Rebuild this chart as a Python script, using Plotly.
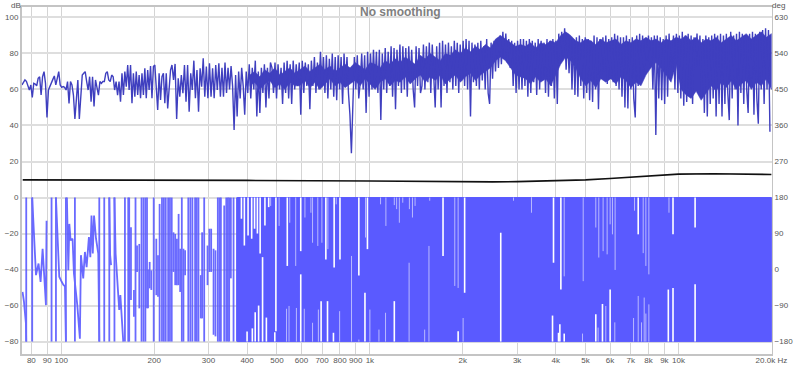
import numpy as np
import plotly.graph_objects as go

# ---------- magnitude (dB), read band by band; each band list runs left to right
band_edges = [74.6, 108.3, 157.3, 228.4, 331.7, 481.7, 699.5, 1016, 1475, 2142, 3111, 4518, 6561, 9528, 13836, 20000]
mag_01 = [62.5,64.4,65.3,64.5,62,59.7,62.5,55.6,63.4,63,62,66.2,67.1,56.9,67.1,69.9,63.4,44.4,59.7,62,63.4,65.6,67.5,62.5,66.2,69.9,62.5,61.2,61.6,61.2,59.7,64.4,52.3,64.4]
mag_02 = [62.5,56.9,43.6,54.2,65.3,43.6,59.7,68,69,69.9,64.4,59.7,67.1,53.2,67.1,50.5,65.3,61.6,56.9,64.4,63.4,64.4,64.4,69,69.9,65.3,64.4,68,67.1,59.7,64.4,56.9,64.4,53.2]
mag_03 = [69,56.9,69.9,61.6,73.6,59.7,73.6,52.3,69,56,69.9,56.9,68,55.1,69,56.9,71.8,55.1,70.8,59.7,73,55.1,72.7,73.6,59.7,48.6,69,54.2,67.1,69,52.3,69,49.5,61.6,70.8]
mag_04 = [73.6,65.3,74.2,43.6,66.2,56,68,57.9,73.6,53.2,73.6,47.7,69,59.7,76,55.1,70.8,47.7,71.8,61.6,77.3,56,72.7,55.1,74.5,56,71.8,55.1,73.6,59.7,74.5,56]
mag_05 = [72,56,75,58,72,60,73,62,37.5,68,45,70,55,72,62,46,70,58,74,55,72,60,76,45,70,47,72,58,74,50,72,55,75]
mag_06 = [72,58,75,55,74,60,72,52,75,58,76,55,74,52,76,60,74,62,75,46,76,58,75,62,74,49,76,62,78,58,75,60,81]
mag_07 = [62,78,58,79,55,77,60,80,56,78,54,79,60,78,52,80,62,78,58,46,24.6,54,78,60,79,55,64,80,60,79,47,81,56,80]
mag_08 = [60,82,62,81,58,82,43,80,60,83,58,81,62,84,56,83,49,82,62,85,58,84,60,83,56,84,64,82,60,50,84,62,83,58]
mag_09 = [62,85,60,84,64,86,58,85,62,50,84,60,86,50,87,62,85,58,86,64,84,60,87,62,86,58,85,65,87,62,88,60,87,45]
mag_10 = [86,64,85,62,86,60,87,65,84,60,88,58,52,86,66,87,70,88,72,90,74,92,77,91,75,88,72,87,62,86,58,87,60,88]
mag_11 = [60,88,62,87,56,88,58,87,64,86,57,88,60,87,65,86,58,88,56,87,62,88,55,87,52,91,76,92,78,94,71,91,69,89]
mag_12 = [60,88,57,89,56,90,62,88,55,89,58,88,54,87,53,90,60,89,49,88,68,89,70,90,63,88,66,89,64,91,62,90,60,89]
mag_13 = [56,89,50,90,49.5,88,60,89,55,44.5,90,62,91,66,90,70,88,76,90,72,89,60,90,34.7,90,55,89,54,88,52,90,56,91,72]
mag_14 = [75,90,60,91,58,90,55,92,51,90,53,91,60,90,52,89,72,91,73,90,56,88,47,90,45,89,52,90,55,91,45,90,52,91]
mag_15 = [45,90,52,91,58,43,92,55,90,60,91,40,92,58,91,52,90,60,47,91,62,92,46,91,55,41,92,60,93,52,94,60,93,36.5]
mag_bands = [mag_01,mag_02,mag_03,mag_04,mag_05,mag_06,mag_07,mag_08,mag_09,mag_10,mag_11,mag_12,mag_13,mag_14,mag_15]

# solid core of the dense magnitude trace, 408 Hz to 20 kHz: low and high dB, left to right
core_edges = [408, 20000]
core_low = [62,64,60,63,65,61,63,60,64,62, 62,65,61,64,60,63,66,62,64,61, 63,65,62,66,63,60,64,66,62,65, 64,67,63,66,68,64,67,65,68,63,
            66,68,64,67,69,65,68,70,72,76, 78,76,72,68,67, 66,63,67,64,66,62,68, 74,78,76,72,66, 62,65,61,66,64, 66,63,67,65, 61,64,62,
            68,72,75,72, 68,64,74, 60,57,55,59,54,58, 62,59,64,61,65,60,63,65,60,64,62,66,60]
core_high = [68,70,67,71,69,72,68,70,72,69, 71,73,70,72,74,71,73,70,72,74, 72,75,73,71,75,74,72,76,74,77, 75,78,76,74,79,77,80,78,76,80,
             79,82,80,83,81,84,82,85,83,88, 90,88,86,84,85, 84,86,83,86,85,87,86, 90,92,90,87,86, 88,87,85,88,86, 87,88,85,87, 86,88,87,
             89,87,88,86, 88,87,89, 88,90,87,89,86,88, 87,89,86,88,90,87,89,91,88,90,92,89,91]

# ---------- black curve (dB)
black_freq = [75,200,400,1000,1500,2000,2500,3000,4000,5000,6000,7000,8000,9000,10000,13000,20000]
black_db = [9.8,9.8,9.5,9.2,8.8,8.6,8.7,8.8,9.3,9.8,10.6,11.4,12.1,12.7,13.0,13.2,12.8]

# ---------- phase below 170 Hz: traced curve pieces (deg)
phase_pieces = [
    [(74.9,-56),(75.7,-80),(76.8,-134),(77,-180)],
    [(80.5,180),(82.8,-14),(84.4,15),(85.7,-31),(87,52),(89.2,-89),(89.6,122)],
    [(96.1,180),(98.5,-18),(99.8,-27),(101.5,-38),(102.8,-42),(103.5,-180)],
    [(104.3,180),(105.4,-2),(106.2,114),(107.2,73),(108.8,77),(109.9,-10),(112.7,-89),(114.9,-173),(115.8,36),(117.8,-22),(119.3,44),(120.8,6),(122.9,81),(124.2,31),(125.3,135),(126.5,40),(127.7,135),(129.6,77),(131.8,40),(132.8,-180)],
    [(143.1,180),(144,36),(145,11)],
    [(148.7,180),(150,40),(153.1,-68),(154.1,-101),(155.4,-64),(156.7,-101),(158.8,-180)],
]
# phase wraps and dense sweeps: frequency, upper deg, lower deg
bar_freq = [77,80.5,93,96.1,103.5,110.7,132.8,137.8,143.1,148.7,160.8,164.8,166,168.2,172,174,176,179,182,184.7,187.3,189.6,191,193.4,195.8,199.3,203.2,205.8,208.3,212,215,218,222,225,228,231,234,237,240,242.8,245.8,248.8,251.9,258,262,266,271.4,274.8,278.3,283.2,286,290.5,297.8,302,306,311.5,316,321.6,325.7,329,337.3,342.5,346.7,350,354.4,361.6,370.8,375.5]
bar_upper = [180,180,180,180,180,180,180,180,180,180,180,180,180,106,-51,180,60,64,180,180,180,180,0,19,-2,180,77,36,164,180,180,180,180,180,180,93,89,77,139,52,180,52,48,180,180,180,180,180,180,-14,93,180,60,102,102,52,48,180,180,180,160,180,180,180,180,180,180,180]
bar_lower = [-180,-180,-180,-180,-180,-180,-180,-180,-180,-180,-180,-180,-180,-76,-118,-180,-6,-97,-180,-180,-180,-97,-97,-47,-51,-180,-64,-68,-180,-180,-180,-180,-180,-180,-180,-6,-39,-39,-39,-56,-180,-180,-14,-180,-180,-180,-180,-180,-180,-122,-122,-180,-39,-6,-6,-163,-167,-180,-180,-180,-180,-180,-180,-180,-22,-180,-180,-180]

# ---------- dense phase band: outline, and the gaps left open in it
solid_freq = [372,20000,20000,372,372]
solid_deg = [180,180,-180,-180,180]
gap_top_f = [383.5,392,403,414,423,432,441,457,470,496,540,597,720,766,800,921,982,1726,2028,3936,4158,7405,9600,11320]
gap_top_d = [127,60,85,77,102,90,40,110,156,-154,9,46,25,5,25,-15,51,34,-58,17,-50,88,88,105]
gap_bot_f = [400,416,425,436,449,462,492,597,695,729,762,964,1200,1932,2655,3907,4086,4127,4263,5396,5671,6005,9270,9600,11320]
gap_bot_d = [-155,-147,-107,-90,31,-120,-157,-12,-79,-79,-158,-58,-79,-154,92,-115,-158,-137,-160,-112,-86,-50,-50,-46,-37]
faint_top_f = [477,508,550,575,616,644,652,678,699,731,778,968,1083,1127,1200,1221,1246,1278,1343,1374,1401,1563,1884,1932,2920,3340,3339,4263,4912,5396,5518,5699,5872,6005,6110,6233,7205,7685,7840,8017,9316]
faint_top_d = [159,109,117,9,130,142,67,59,67,51,163,80,163,109,161,151,117,167,151,130,159,172,-41,-46,172,147,142,-17,-29,105,30,46,38,113,88,-1,147,41,9,-12,142]
faint_bot_f = [537,547,578,613,652,681,798,872,921,1000,1070,1124,1340,1505,1554,2005,4887,5490,5814,6218,7152,7405,7591,7743,7840,8017]
faint_bot_d = [-98,-91,-96,-98,-133,-100,-104,34,-175,-100,-150,-108,17,-150,59,-121,-160,-145,-91,-132,-121,-66,-132,-70,-110,-87]

# ---------- tick labels
x_ticks = [80,90,100,200,300,400,500,600,700,800,900,1000,2000,3000,4000,5000,6000,7000,8000,9000,10000,20000]
x_labels = ["80","90","100","200","300","400","500","600","700","800","900","1k","2k","3k","4k","5k","6k","7k","8k","9k","10k","20.0k Hz"]
db_ticks = [100,80,60,40,20,0,-20,-40,-60,-80]
deg_ticks = [630,540,450,360,270,180,90,0,-90,-180]

MAG = "#3f3fbf"
PHASE = "#5a5aff"

mag_x, mag_y = [], []
for i, band in enumerate(mag_bands):
    mag_x.extend(np.geomspace(band_edges[i], band_edges[i + 1], len(band), endpoint=False).tolist())
    mag_y.extend(band)

core_x = np.geomspace(core_edges[0], core_edges[1], len(core_low)).tolist()

ph_x, ph_y = [], []
for piece in phase_pieces:
    ph_x += [p[0] for p in piece] + [None]
    ph_y += [p[1] for p in piece] + [None]
for f, u, l in zip(bar_freq, bar_upper, bar_lower):
    ph_x += [f, f, None]
    ph_y += [u, l, None]


def strokes(freqs, ends, edge):
    xs, ys = [], []
    for f, e in zip(freqs, ends):
        xs += [f, f, None]
        ys += [edge, e, None]
    return xs, ys


fig = go.Figure()
fig.add_trace(go.Scatter(x=solid_freq, y=solid_deg, yaxis="y2", mode="lines", fill="toself",
                         fillcolor=PHASE, line=dict(color=PHASE, width=1), hoverinfo="skip"))
fig.add_trace(go.Scatter(x=ph_x, y=ph_y, yaxis="y2", mode="lines",
                         line=dict(color=PHASE, width=1.8), opacity=0.9))
for fs, ds, edge, w, col in [
    (faint_top_f, faint_top_d, 180, 1.0, "#b9b9ff"),
    (faint_bot_f, faint_bot_d, -180, 1.0, "#b9b9ff"),
    (gap_top_f, gap_top_d, 180, 1.6, "#ffffff"),
    (gap_bot_f, gap_bot_d, -180, 1.6, "#ffffff"),
]:
    gx, gy = strokes(fs, ds, edge)
    fig.add_trace(go.Scatter(x=gx, y=gy, yaxis="y2", mode="lines", line=dict(color=col, width=w)))
fig.add_trace(go.Scatter(x=core_x + core_x[::-1], y=core_high + core_low[::-1], mode="lines",
                         fill="toself", fillcolor=MAG, line=dict(color=MAG, width=0.5), hoverinfo="skip"))
fig.add_trace(go.Scatter(x=mag_x, y=mag_y, mode="lines", line=dict(color=MAG, width=1.4)))
fig.add_trace(go.Scatter(x=black_freq, y=black_db, mode="lines", line=dict(color="#111111", width=1.6)))

tick_font = dict(family="Liberation Sans, Arial, sans-serif", size=8, color="#555555")
fig.update_layout(
    width=800, height=366, autosize=False, showlegend=False,
    paper_bgcolor="white", plot_bgcolor="white",
    margin=dict(l=22, r=28, t=7, b=12),
    xaxis=dict(type="log", range=[np.log10(74.6), np.log10(20093)], tickmode="array",
               tickvals=x_ticks, ticktext=x_labels, tickangle=0, tickfont=tick_font, automargin=False,
               ticklabelstandoff=-3,
               showgrid=True, gridcolor="#d4d4d4", gridwidth=1, ticks="", zeroline=False,
               showline=True, linecolor="#c4c4c4", linewidth=2, mirror=True),
    yaxis=dict(range=[-86.9, 105.8], tickmode="array", tickvals=db_ticks, tickfont=tick_font, automargin=False,
               showgrid=True, gridcolor="#dedede", gridwidth=1.5, ticks="", zeroline=False,
               showline=True, linecolor="#c4c4c4", linewidth=2, mirror=False),
    yaxis2=dict(range=[-211.05, 656.1], overlaying="y", side="right", tickmode="array", automargin=False,
                tickvals=deg_ticks, tickfont=tick_font, showgrid=False, ticks="", zeroline=False,
                showline=True, linecolor="#c4c4c4", linewidth=1),
    annotations=[
        dict(text="<b>No smoothing</b>", xref="paper", yref="paper", x=0.5, y=1, yanchor="top",
             xshift=3, yshift=4, showarrow=False,
             font=dict(family="Liberation Sans, Arial, sans-serif", size=12, color="#808080")),
        dict(text="dB", xref="paper", yref="paper", x=0, y=1, xanchor="center", yanchor="bottom",
             xshift=-6, yshift=-5, showarrow=False, font=tick_font),
        dict(text="deg", xref="paper", yref="paper", x=1, y=1, xanchor="center", yanchor="bottom",
             xshift=6, yshift=-5, showarrow=False, font=tick_font),
    ],
)
fig.write_html("out.html", config={"displayModeBar": False},
               post_script="document.body.style.margin='0';document.documentElement.style.overflow='hidden';")
